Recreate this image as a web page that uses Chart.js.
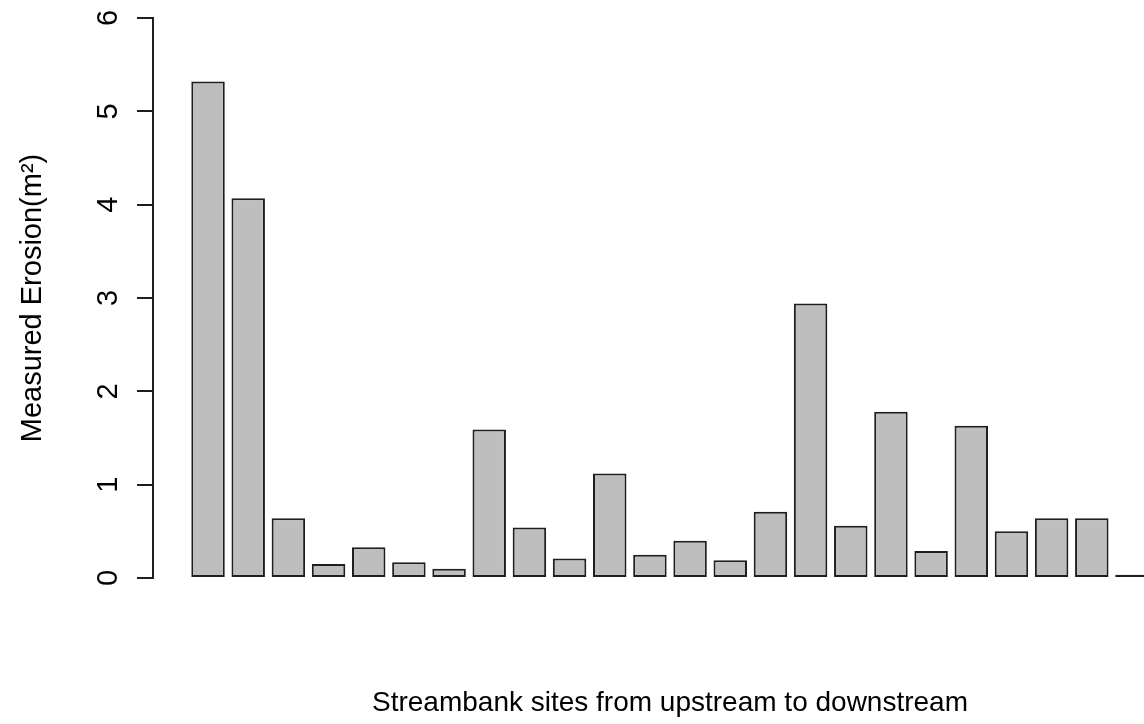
<!DOCTYPE html>
<html>
<head>
<meta charset="utf-8">
<script src="https://cdn.jsdelivr.net/npm/chart.js@4"></script>
<style>
  html, body { margin: 0; padding: 0; background: #fff; overflow: hidden; }
  #wrap { position: relative; width: 1187px; height: 724px; }
</style>
</head>
<body>
<div id="wrap"><canvas id="erosion-chart"></canvas></div>
<script>
// sites numbered upstream -> downstream
const sites = [1, 2, 3, 4, 5, 6, 7, 8, 9, 10, 11, 12, 13, 14, 15, 16, 17, 18, 19, 20, 21, 22, 23, 24];
// measured erosion (m^2)
const erosion = [5.32, 4.07, 0.64, 0.15, 0.33, 0.17, 0.10, 1.59, 0.54, 0.21, 1.12, 0.25,
                 0.40, 0.19, 0.71, 2.94, 0.56, 1.78, 0.29, 1.63, 0.50, 0.64, 0.64, 0.035];
const yTicks = [0, 1, 2, 3, 4, 5, 6];

const FONT = '"Liberation Sans", Arial, Helvetica, sans-serif';
const INK = '#1e1e1e';

// R-style rotated tick labels on the y axis
const rotatedTicks = {
    id: 'rotatedTicks',
    afterDraw(chart) {
        const s = chart.scales.y;
        const ctx = chart.ctx;
        ctx.save();
        ctx.font = '29px ' + FONT;
        ctx.fillStyle = '#000';
        ctx.textAlign = 'center';
        ctx.textBaseline = 'alphabetic';
        yTicks.forEach(function (v) {
            const y = s.getPixelForValue(v);
            ctx.save();
            ctx.translate(s.right - 36.5, y);
            ctx.rotate(-Math.PI / 2);
            ctx.fillText(String(v), 0, 0);
            ctx.restore();
        });
        ctx.restore();
    }
};

new Chart(document.getElementById('erosion-chart'), {
    type: 'bar',
    data: {
        datasets: [{
            data: sites.map(function (s, i) { return { x: s, y: erosion[i] }; }),
            backgroundColor: '#BEBEBE',
            borderColor: INK,
            borderWidth: 2,
            borderSkipped: false,
            categoryPercentage: 1,
            barPercentage: 1 / 1.2
        }]
    },
    options: {
        responsive: true,
        maintainAspectRatio: false,
        animation: false,
        layout: { padding: { top: 18, left: 0, right: 0, bottom: 0 } },
        plugins: { legend: { display: false }, tooltip: { enabled: false } },
        scales: {
            x: {
                type: 'linear',
                offset: false,
                min: -0.37,
                max: 25.37,
                grid: { display: false, offset: false },
                border: { display: false },
                ticks: { display: false },
                title: {
                    display: true,
                    text: 'Streambank sites from upstream to downstream',
                    color: '#000',
                    font: { family: FONT, size: 28, lineHeight: 1 },
                    padding: { top: 0, bottom: 7 }
                },
                afterFit: function (scale) { scale.height = 146; }
            },
            y: {
                min: 0,
                max: 6,
                ticks: { display: false, stepSize: 1 },
                grid: {
                    display: true,
                    drawOnChartArea: false,
                    drawTicks: true,
                    tickLength: 16,
                    color: INK,
                    lineWidth: 2
                },
                border: { display: true, color: INK, width: 2 },
                title: {
                    display: true,
                    text: 'Measured Erosion(m²)',
                    color: '#000',
                    font: { family: FONT, size: 29, lineHeight: 1 },
                    padding: { top: 18.8, bottom: 0 }
                },
                afterFit: function (scale) { scale.width = 153; }
            }
        }
    },
    plugins: [rotatedTicks]
});
</script>
</body>
</html>
